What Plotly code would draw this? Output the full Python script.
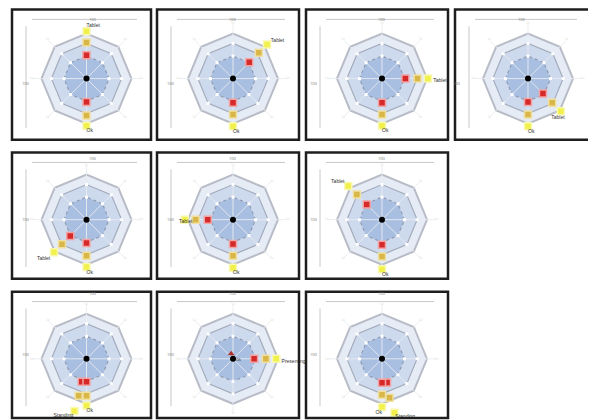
import plotly.graph_objects as go

OFF = 8                      # page body margin of the browser
W, H = 596 - OFF, 420 - OFF  # figure size so the page fits the window

# ---------------- data ----------------
level_radii = [1.0, 0.78, 0.5]
spoke_angles = [0, 45, 90, 135, 180, 225, 270, 315]
spoke_labels = ["Lv", "Lv", "Lv", "Lv", "Lv", "Lv", "Lv", "Lv"]
dim_label = "100"

# each panel: list of series; each series = (thetas of 3 markers, radii of 3 markers, label)
p1_theta = [[90, 90, 90], [270, 270, 270]]
p1_r = [[0.52, 0.80, 1.05], [0.52, 0.82, 1.05]]
p1_lab = ["Tablet", "Ok"]

p2_theta = [[45, 45, 45], [270, 270, 270]]
p2_r = [[0.51, 0.81, 1.07], [0.54, 0.80, 1.06]]
p2_lab = ["Tablet", "Ok"]

p3_theta = [[0, 0, 0], [270, 270, 270]]
p3_r = [[0.52, 0.79, 1.02], [0.54, 0.80, 1.05]]
p3_lab = ["Tablet", "Ok"]

p4_theta = [[315, 315, 315], [270, 270, 270]]
p4_r = [[0.47, 0.76, 1.03], [0.52, 0.80, 1.06]]
p4_lab = ["Tablet", "Ok"]

p5_theta = [[225, 225, 225], [270, 270, 270]]
p5_r = [[0.51, 0.77, 1.02], [0.52, 0.80, 1.05]]
p5_lab = ["Tablet", "Ok"]

p6_theta = [[180, 180, 180], [270, 270, 270]]
p6_r = [[0.56, 0.83, 1.07], [0.54, 0.80, 1.07]]
p6_lab = ["Tablet", "Ok"]

p7_theta = [[135, 135, 135], [270, 270, 270]]
p7_r = [[0.48, 0.79, 1.06], [0.56, 0.82, 1.10]]
p7_lab = ["Tablet", "Ok"]

p8_theta = [[258, 258, 257], [270, 270, 270]]
p8_r = [[0.52, 0.84, 1.19], [0.51, 0.82, 1.04]]
p8_lab = ["Standing", "Ok"]

p9_theta = [[0, 0, 0]]
p9_r = [[0.47, 0.73, 0.96]]
p9_lab = ["Presenting"]

p10_theta = [[282, 281, 283], [270, 270, 270]]
p10_r = [[0.54, 0.88, 1.23], [0.53, 0.80, 1.07]]
p10_lab = ["Standing", "Ok"]

panels_theta = [p1_theta, p2_theta, p3_theta, p4_theta, p5_theta,
                p6_theta, p7_theta, p8_theta, p9_theta, p10_theta]
panels_r = [p1_r, p2_r, p3_r, p4_r, p5_r, p6_r, p7_r, p8_r, p9_r, p10_r]
panels_lab = [p1_lab, p2_lab, p3_lab, p4_lab, p5_lab, p6_lab, p7_lab, p8_lab, p9_lab, p10_lab]

# ---------------- layout / style ----------------
boxes = [(12, 3, 151, 135), (157, 3, 299, 135), (306, 3, 448, 135), (455, 3, 591, 135),
         (12, 148, 151, 276), (157, 148, 299, 276), (306, 148, 448, 276),
         (12, 289, 151, 417), (157, 289, 299, 417), (306, 289, 448, 417)]
label_pos = [["middle right", "middle right"], ["middle right", "middle right"],
             ["bottom right", "middle right"], ["bottom left", "middle right"],
             ["bottom left", "middle right"], ["bottom center", "middle right"],
             ["middle left", "middle right"], ["middle left", "middle right"],
             ["bottom right"], ["middle right", "middle left"]]
label_gaps = [[0.12, 0.12], [0.12, 0.12], [0.12, 0.12], [0.12, 0.12], [0.12, 0.12],
              [-0.02, 0.12], [0.12, 0.12], [0.12, 0.12], [0.12], [0.12, 0.12]]
PX = 45.0     # pixels per radial unit
RMAX = 1.33
fills = ["#e6ecf6", "#cdd9ed", "#a9bfe1"]
borders = ["#b8bcc6", "#a4acbc", "#8f9aae"]
mcolors = ["#d62a2a", "#d9b648", "#f2f04a"]
mlines = ["#f2a4a4", "#efe0a0", "#f8f8b0"]

fig = go.Figure()
shapes, annotations = [], []
oct_theta = spoke_angles + [spoke_angles[0]]

# vertical remap so the top border (y=3 in the reference) stays visible
Y_TOP_REF, Y_BOT_REF = 3, 417
Y_TOP_NEW, Y_BOT_NEW = 9.5, 418


def ymap(py):
    return Y_TOP_NEW + (py - Y_TOP_REF) * (Y_BOT_NEW - Y_TOP_NEW) / (Y_BOT_REF - Y_TOP_REF)


def fx(px):
    return (px - OFF) / W


def fy(py):
    return 1 - (ymap(py) - OFF) / H


def clamp(v):
    return min(1.0, max(0.0, v))


for i, (x0, y0, x1, y1) in enumerate(boxes):
    pid = "polar" if i == 0 else f"polar{i+1}"
    sub = pid
    cx = (x0 + x1) / 2 + 5
    cy = (y0 + y1) / 2 + 4
    s = PX * RMAX
    cyn = ymap(cy)
    fig.update_layout({pid: dict(
        domain=dict(x=[clamp(fx(cx - s)), clamp(fx(cx + s))],
                    y=[clamp(1 - (cyn + s - OFF) / H), clamp(1 - (cyn - s - OFF) / H)]),
        bgcolor="rgba(0,0,0,0)",
        radialaxis=dict(visible=False, range=[0, RMAX]),
        angularaxis=dict(visible=False, rotation=0, direction="counterclockwise"),
    )})
    # octagons
    for k, rr in enumerate(level_radii):
        fig.add_trace(go.Scatterpolar(
            r=[rr] * len(oct_theta), theta=oct_theta, mode="lines", fill="toself",
            fillcolor=fills[k], line=dict(color=borders[k], width=2 if k == 0 else 1.2,
                                          dash="dot" if k == 2 else "solid"),
            subplot=sub, showlegend=False, hoverinfo="skip"))
    # spokes
    sr, st = [], []
    for a in spoke_angles:
        sr += [0, 1.2, None]
        st += [a, a, None]
    fig.add_trace(go.Scatterpolar(r=sr, theta=st, mode="lines",
                                  line=dict(color="rgba(232,235,240,0.9)", width=1),
                                  subplot=sub, showlegend=False, hoverinfo="skip"))
    # ticks on spokes
    tr, tt = [], []
    for a in spoke_angles:
        for rr in level_radii[1:]:
            tr.append(rr)
            tt.append(a)
    fig.add_trace(go.Scatterpolar(r=tr, theta=tt, mode="markers",
                                  marker=dict(color="white", size=3, symbol="square"),
                                  subplot=sub, showlegend=False, hoverinfo="skip"))
    # spoke labels (skipped on spokes that carry a labelled series)
    used = set()
    for th in panels_theta[i]:
        for a in spoke_angles:
            if abs(((th[-1] - a + 180) % 360) - 180) < 20:
                used.add(a)
    lab_t = [a for a in spoke_angles if a not in used]
    lab_s = [spoke_labels[spoke_angles.index(a)] for a in lab_t]
    fig.add_trace(go.Scatterpolar(r=[1.22] * len(lab_t), theta=lab_t, mode="text",
                                  text=lab_s, textfont=dict(size=3, color="#d6d6c6"),
                                  subplot=sub, showlegend=False, hoverinfo="skip"))
    # markers
    for j, (th, rr, lab) in enumerate(zip(panels_theta[i], panels_r[i], panels_lab[i])):
        fig.add_trace(go.Scatterpolar(r=rr, theta=th, mode="markers",
                                      marker=dict(color=mcolors, size=7, symbol="square",
                                                  line=dict(color=mlines, width=1.5)),
                                      subplot=sub, showlegend=False, hoverinfo="skip"))
        fig.add_trace(go.Scatterpolar(r=[min(rr[-1] + label_gaps[i][j], RMAX - 0.01)],
                                      theta=[th[-1]], mode="text", text=[lab],
                                      textposition=label_pos[i][j],
                                      textfont=dict(size=5, color="#333333", family="Arial"),
                                      subplot=sub, showlegend=False, hoverinfo="skip"))
    # center
    fig.add_trace(go.Scatterpolar(r=[0], theta=[0], mode="markers",
                                  marker=dict(color="black", size=6),
                                  subplot=sub, showlegend=False, hoverinfo="skip"))
    if i == 8:
        fig.add_trace(go.Scatterpolar(r=[0.12], theta=[110], mode="markers+text", text=["Ok"],
                                      textposition="bottom right",
                                      marker=dict(color="#b03030", size=6, symbol="triangle-up"),
                                      textfont=dict(size=4, color="#333333"),
                                      subplot=sub, showlegend=False, hoverinfo="skip"))

    # panel border
    shapes.append(dict(type="rect", xref="paper", yref="paper",
                       x0=fx(x0), x1=fx(x1), y0=fy(y1), y1=fy(y0),
                       line=dict(color="#1e1e1e", width=2.5)))
    # dimension lines
    hy = fy(y0 + 10)
    shapes.append(dict(type="line", xref="paper", yref="paper",
                       x0=fx(x0 + 20), x1=fx(x1 - 14), y0=hy, y1=hy,
                       line=dict(color="#c8c8c8", width=1)))
    vx = fx(x0 + 14)
    shapes.append(dict(type="line", xref="paper", yref="paper",
                       x0=vx, x1=vx, y0=fy(y0 + 17), y1=fy(y1 - 12),
                       line=dict(color="#c8c8c8", width=1)))
    annotations.append(dict(xref="paper", yref="paper", x=fx(cx), y=fy(y0 + 6),
                            text=dim_label, showarrow=False,
                            font=dict(size=4, color="#777777")))
    annotations.append(dict(xref="paper", yref="paper", x=fx(x0 + 8), y=fy(cy),
                            text=dim_label, showarrow=False,
                            font=dict(size=4, color="#777777")))

fig.update_layout(width=W, height=H, margin=dict(l=0, r=0, t=0, b=0),
                  paper_bgcolor="white", plot_bgcolor="white",
                  shapes=shapes, annotations=annotations, showlegend=False)
fig.write_html("out.html")
